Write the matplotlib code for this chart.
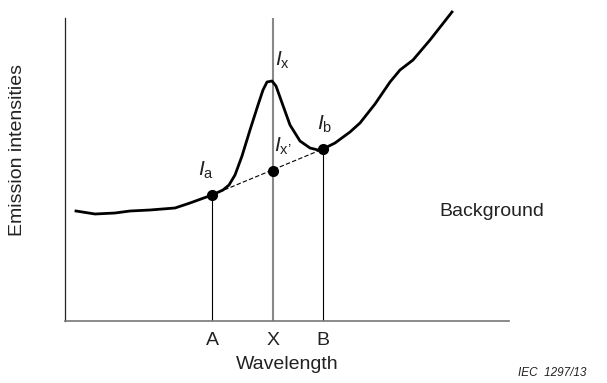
import numpy as np
import matplotlib
matplotlib.use("Agg")
from matplotlib import pyplot as plt

plt.rcParams['font.family'] = ['Liberation Sans', 'DejaVu Sans']
plt.rcParams['mathtext.fontset'] = 'custom'
plt.rcParams['mathtext.rm'] = 'Liberation Sans'
plt.rcParams['mathtext.it'] = 'Liberation Sans:italic'

# spectrum (arbitrary units, origin at the axes corner)
wavelength = [11, 30, 50, 65, 85, 110, 125, 147, 158, 164, 170, 177, 185, 193, 198,
              202, 207, 211, 216, 225, 235, 245, 253, 258, 270, 285, 295, 310,
              325, 335, 348, 365, 387]
intensity = [110, 107, 108, 110, 111, 113, 118, 126, 131, 136, 146, 165, 191, 216, 231,
             239, 240, 235, 221, 196, 180, 173, 171, 172, 178, 189, 198, 217,
             239, 251, 261, 281, 309]

# reference positions
pos_a, pos_x, pos_b = 147, 208, 258
int_a, int_x2, int_b = 126, 150, 172
tick_labels = ['A', 'X', 'B']

fig = plt.figure(figsize=(6.07, 3.83), dpi=100)
ax = fig.add_axes([65 / 607, 62 / 383, 444 / 607, 303 / 383])
ax.set_xlim(0, 444)
ax.set_ylim(0, 303)
for s in ['top', 'right']:
    ax.spines[s].set_visible(False)
ax.spines['left'].set_color('#222222')
ax.spines['left'].set_linewidth(0.9)
ax.spines['bottom'].set_color('#777777')
ax.spines['bottom'].set_linewidth(1.2)
ax.set_xticks([pos_a, pos_x, pos_b])
ax.set_xticklabels(tick_labels, fontsize=14, color='#222222')
ax.tick_params(axis='x', length=0, pad=8)
ax.set_yticks([])

ax.plot(wavelength, intensity, color='black', lw=2.0, clip_on=False, zorder=3)

ax.vlines(pos_a, 0, int_a, color='black', lw=0.8)
ax.vlines(pos_b, 0, int_b, color='black', lw=0.8)
ax.vlines(pos_x, 0, 303, color='#888888', lw=1.5)
ax.plot([pos_a, pos_b], [int_a, int_b], color='black', lw=0.8, ls=(0, (4, 2)))
ax.plot([pos_a, pos_x, pos_b], [int_a, int_x2, int_b], 'o', color='black',
        ms=7, zorder=4)

lab = dict(fontsize=15, color='#222222', va='bottom')
ax.text(pos_a - 6, int_a + 14, r'$I_{\mathrm{a}}$', ha='center', **lab)
ax.text(pos_x + 2, 250, r'$I_{\mathrm{x}}$', ha='left', **lab)
ax.text(pos_x + 1, int_x2 + 14, r"$I_{\mathrm{x’}}$", ha='left', **lab)
ax.text(pos_b - 6, int_b + 14, r'$I_{\mathrm{b}}$', ha='left', **lab)
ax.text(427, 109, 'Background', fontsize=14, color='#222222', ha='center', va='center')

ax.set_xlabel('Wavelength', fontsize=14, color='#222222', labelpad=5)
ax.set_ylabel('Emission intensities', fontsize=14, color='#222222')
ax.yaxis.set_label_coords(-0.088, 0.564)
fig.text(552 / 607, 1 - 373 / 383, 'IEC  1297/13', fontsize=8.5, style='italic',
         ha='center', va='center', color='#222222')

fig.savefig('out.png', dpi=100)
